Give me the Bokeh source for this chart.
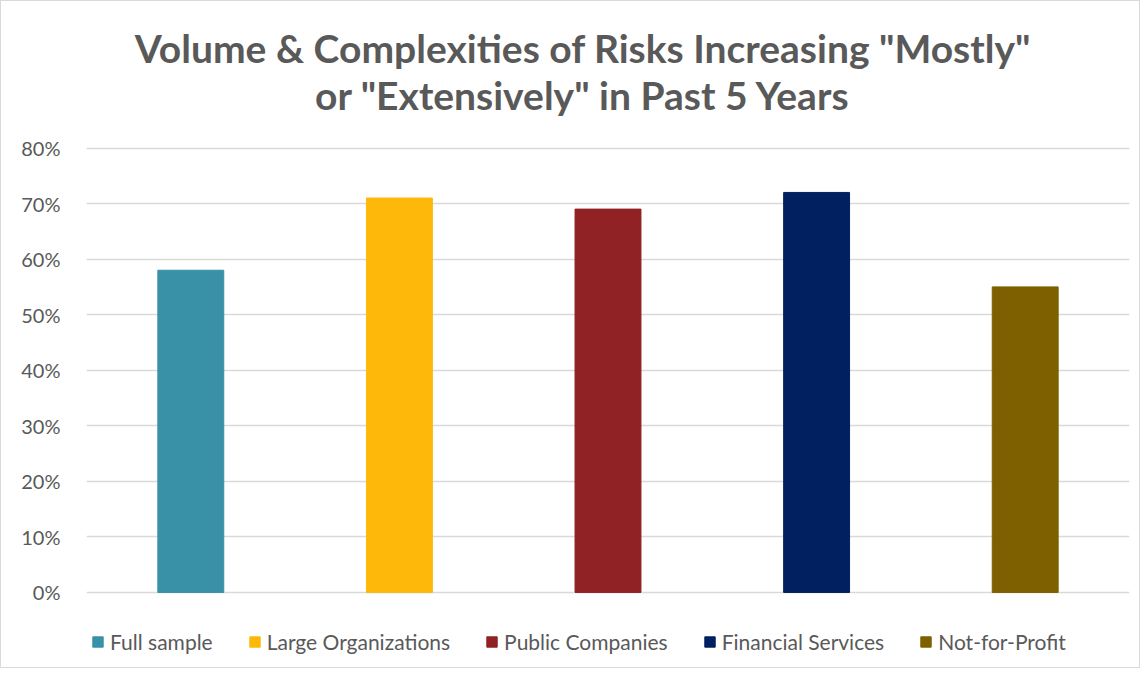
from bokeh.plotting import figure
from bokeh.models import ColumnDataSource, Label, Legend, LegendItem, NumeralTickFormatter, FixedTicker, Range1d
from bokeh.embed import file_html
from bokeh.resources import INLINE

categories = ["Full sample", "Large Organizations", "Public Companies", "Financial Services", "Not-for-Profit"]
values = [0.58, 0.71, 0.69, 0.72, 0.55]
colors = ["#3891A7", "#FEB80A", "#902124", "#002060", "#7F6000"]
y_ticks = [0, 0.1, 0.2, 0.3, 0.4, 0.5, 0.6, 0.7, 0.8]
title_lines = ['Volume & Complexities of Risks Increasing "Mostly"', 'or "Extensively" in Past 5 Years']

FONT = "Lato"
GRAY = "#595959"

src = ColumnDataSource(dict(cat=categories, val=values, color=colors))

# y range extends below 0 (legend room) and above 80% (title room) inside the frame
p = figure(x_range=categories, y_range=Range1d(-0.1333, 1.0493), width=1140, height=668,
           output_backend="svg", toolbar_location=None,
           min_border_left=85, min_border_right=12, min_border_top=8, min_border_bottom=3)
p.title = None
r = p.vbar(x="cat", top="val", width=0.316, color="color", source=src)

p.xaxis.visible = False
p.yaxis.ticker = FixedTicker(ticks=y_ticks)
p.yaxis.formatter = NumeralTickFormatter(format="0%")
p.yaxis.axis_line_color = None
p.yaxis.major_tick_line_color = None
p.yaxis.minor_tick_line_color = None
p.yaxis.major_label_text_font = FONT
p.yaxis.major_label_text_font_size = "20px"
p.yaxis.major_label_text_color = GRAY
p.yaxis.major_label_standoff = 20
p.xgrid.grid_line_color = None
p.ygrid.ticker = FixedTicker(ticks=y_ticks)
p.ygrid.grid_line_color = "#D9D9D9"
p.ygrid.grid_line_width = 1.5
p.outline_line_color = None
p.styles = {"border": "1px solid #D9D9D9"}

for t, y in zip(title_lines, [0.9795, 0.8949]):
    p.add_layout(Label(x=len(categories) / 2, y=y, x_offset=-25, text=t, text_align="center",
                       text_baseline="middle", text_font=FONT, text_font_size="39px",
                       text_font_style="bold", text_color=GRAY))

items = [LegendItem(label=c, renderers=[r], index=i) for i, c in enumerate(categories)]
legend = Legend(items=items, orientation="horizontal", location=(5, 12),
                label_text_font=FONT, label_text_font_size="21px", label_text_color=GRAY,
                glyph_width=13, glyph_height=13, spacing=35, label_standoff=6,
                padding=0, margin=0, border_line_color=None, background_fill_alpha=0)
p.add_layout(legend, "center")

open("out.html", "w").write(file_html(p, INLINE))
